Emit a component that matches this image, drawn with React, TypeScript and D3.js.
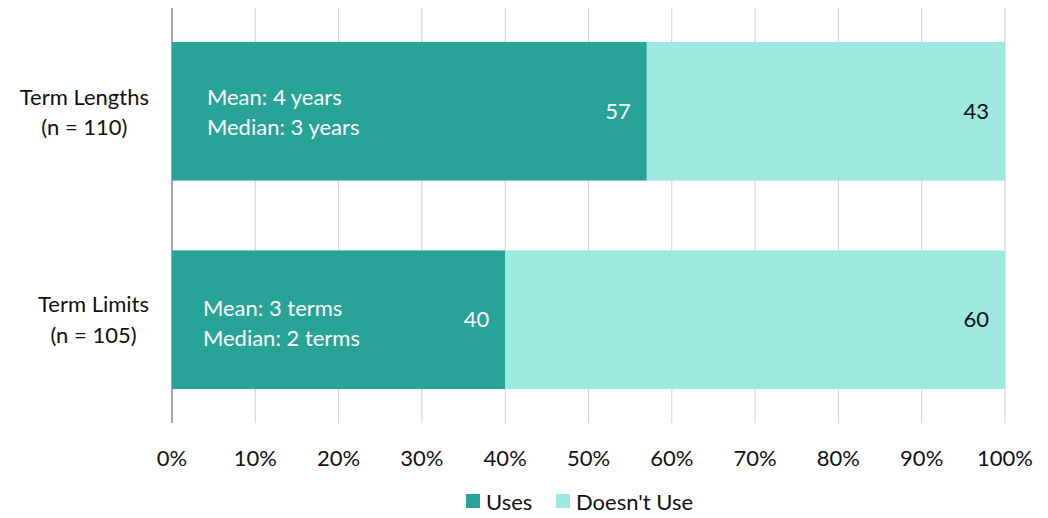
import React from "react";
import * as d3 from "d3";

const categories = ["Term Lengths", "Term Limits"];
const categorySub = ["(n = 110)", "(n = 105)"];
const usesValues = [57, 40];
const doesntUseValues = [43, 60];
const innerLine1 = ["Mean: 4 years", "Mean: 3 terms"];
const innerLine2 = ["Median: 3 years", "Median: 2 terms"];
const tickValues = [0, 10, 20, 30, 40, 50, 60, 70, 80, 90, 100];
const seriesNames = ["Uses", "Doesn't Use"];
const seriesColors = ["#27a398", "#9de8e1"];

const W = 1048;
const H = 518;
const FONT_FAMILY = "Lato";
const FS = 22;

function measure(text: string): number {
  const c = document.createElement("canvas").getContext("2d");
  if (!c) return text.length * FS * 0.5;
  c.font = `${FS}px ${FONT_FAMILY}`;
  return c.measureText(text).width;
}

export default function App() {
  const x = d3.scaleLinear().domain([0, 100]).range([172, 1005]);
  const y = d3
    .scaleBand<string>()
    .domain(categories)
    .range([8, 423])
    .paddingInner(0.335)
    .paddingOuter(0.163);
  const bw = y.bandwidth();
  const labelRight = x(0) - 23;
  const innerRight = x(0) + 188;

  return (
    <svg
      width={W}
      height={H}
      style={{ position: "absolute", left: 0, top: 0, fontFamily: FONT_FAMILY }}
    >
      {tickValues.map((t) => (
        <line
          key={t}
          x1={x(t)}
          x2={x(t)}
          y1={8}
          y2={423}
          stroke={t === 0 ? "#888" : "#d0d0d0"}
          strokeWidth={t === 0 ? 1.5 : 1}
        />
      ))}
      {categories.map((c, i) => {
        const y0 = y(c)!;
        const cy = y0 + bw / 2;
        const blockW = Math.max(measure(c), measure(categorySub[i]));
        const lc = labelRight - blockW / 2;
        const usesEnd = x(usesValues[i]);
        const innerW = Math.max(measure(innerLine1[i]), measure(innerLine2[i]));
        const innerLeft = innerRight - innerW;
        return (
          <g key={c}>
            <rect
              x={x(0)}
              y={y0}
              width={usesEnd - x(0)}
              height={bw}
              fill={seriesColors[0]}
            />
            <rect
              x={usesEnd}
              y={y0}
              width={x(usesValues[i] + doesntUseValues[i]) - usesEnd}
              height={bw}
              fill={seriesColors[1]}
            />
            <text
              x={usesEnd - 16}
              y={cy}
              dy="0.35em"
              textAnchor="end"
              fontSize={FS}
              fill="#fff"
            >
              {usesValues[i]}
            </text>
            <text
              x={x(usesValues[i] + doesntUseValues[i]) - 16}
              y={cy}
              dy="0.35em"
              textAnchor="end"
              fontSize={FS}
              fill="#111"
            >
              {doesntUseValues[i]}
            </text>
            <text x={innerLeft} y={cy - 14 + (i === 1 ? 3 : 0)} dy="0.35em" fontSize={FS} fill="#fff">
              {innerLine1[i]}
            </text>
            <text x={innerLeft} y={cy + 16 + (i === 1 ? 3 : 0)} dy="0.35em" fontSize={FS} fill="#fff">
              {innerLine2[i]}
            </text>
            <text x={lc} y={cy - 14 + (i === 1 ? -1 : 0)} dy="0.35em" textAnchor="middle" fontSize={FS} fill="#111">
              {c}
            </text>
            <text x={lc} y={cy + 16} dy="0.35em" textAnchor="middle" fontSize={FS} fill="#111">
              {categorySub[i]}
            </text>
          </g>
        );
      })}
      {tickValues.map((t) => (
        <text
          key={"l" + t}
          x={x(t)}
          y={458}
          dy="0.35em"
          textAnchor="middle"
          fontSize={FS}
          fill="#111"
        >
          {t + "%"}
        </text>
      ))}
      <g>
        <rect x={466} y={494} width={14} height={14} fill={seriesColors[0]} />
        <text x={486} y={502} dy="0.35em" fontSize={FS} fill="#111">
          {seriesNames[0]}
        </text>
        <rect x={556} y={494} width={14} height={14} fill={seriesColors[1]} />
        <text x={576} y={502} dy="0.35em" fontSize={FS} fill="#111">
          {seriesNames[1]}
        </text>
      </g>
    </svg>
  );
}
